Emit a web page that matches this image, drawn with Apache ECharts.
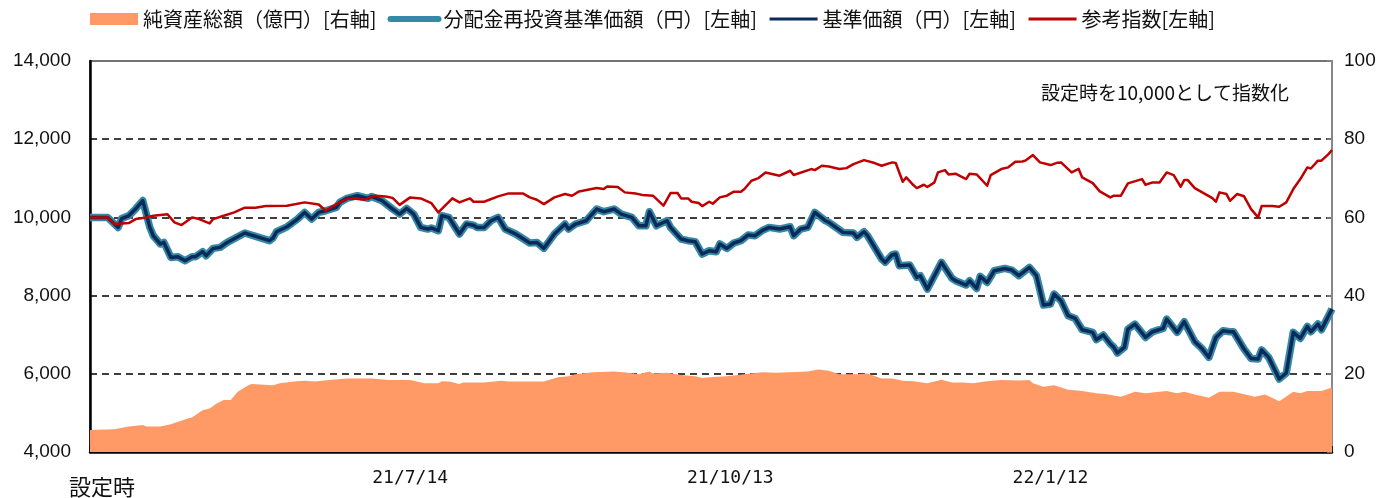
<!DOCTYPE html>
<html>
<head>
<meta charset="utf-8">
<script src="https://cdn.jsdelivr.net/npm/echarts@6/dist/echarts.min.js"></script>
<style>
html,body{margin:0;padding:0;background:#fff;}
#chart{width:1385px;height:498px;}
</style>
</head>
<body>
<div id="chart"></div>
<script>
// Series names
const aumName = '純資産総額（億円）[右軸]';
const reinvName = '分配金再投資基準価額（円）[左軸]';
const navName = '基準価額（円）[左軸]';
const refName = '参考指数[左軸]';
const noteText = '設定時を10,000として指数化';

// X axis: days since inception (設定時)
const tickDays = [0, 91, 182, 273];
const tickLabels = ['設定時', '21/7/14', '21/10/13', '22/1/12'];

// NAV (基準価額 = 分配金再投資基準価額, identical in the chart)
const navDays = [
  0,5,8,9,11,13,15,17,18,20,
  21,23,25,27,29,30,32,33,35,37,
  39,44,48,51,52,53,56,59,61,63,
  65,67,70,71,73,76,79,80,83,86,
  88,90,92,94,96,97,99,100,102,105,
  107,109,110,112,114,116,118,121,125,127,
  129,132,135,136,138,141,144,146,149,151,
  154,156,158,159,161,164,165,168,170,172,
  174,176,178,179,181,183,185,187,189,191,
  193,196,199,200,202,204,206,209,210,214,
  217,218,220,221,225,226,228,229,230,233,
  235,236,238,239,241,242,245,246,249,250,
  252,253,255,257,260,262,264,267,269,271,
  273,274,276,278,280,282,285,286,288,290,
  291,292,294,295,297,300,302,305,306,309,
  311,314,316,318,320,322,324,325,328,330,
  332,333,335,338,340,342,344,346,347,349,
  350,353
];
const navValues = [
  10000,10000,9744,9970,10040,10220,10430,9744,9530,9320,
  9360,8977,8995,8893,8995,8995,9123,9020,9207,9233,
  9360,9600,9488,9404,9472,9633,9760,9957,10128,9957,
  10128,10170,10256,10384,10486,10555,10486,10537,10427,10214,
  10085,10230,10085,9744,9702,9730,9660,10043,10000,9575,
  9830,9800,9744,9744,9915,10000,9702,9575,9345,9360,
  9208,9575,9830,9702,9830,9915,10213,10145,10213,10085,
  10000,9787,9787,10145,9787,9915,9744,9446,9404,9380,
  9063,9148,9123,9320,9207,9345,9404,9548,9530,9660,
  9744,9702,9760,9532,9702,9744,10130,9915,9872,9617,
  9600,9490,9633,9532,8936,8850,9047,9063,8765,8780,
  8465,8508,8167,8337,8679,8850,8440,8380,8270,8380,
  8184,8491,8337,8636,8695,8653,8508,8721,8508,7758,
  7784,8040,7868,7485,7416,7127,7059,6872,6992,6762,
  6677,6533,6677,7144,7272,6930,7076,7161,7400,7059,
  7332,6820,6650,6420,6930,7100,7076,7076,6633,6394,
  6378,6610,6420,5867,6020,7059,6905,7212,7076,7272,
  7127,7656
];

// Reference index (参考指数)
const refDays = [
  0,5,7,11,13,16,18,22,24,26,
  29,31,34,35,38,41,44,47,50,56,
  61,65,67,70,73,75,78,81,84,86,
  88,91,94,97,99,103,105,108,109,112,
  116,119,123,125,127,129,132,135,137,139,
  144,146,147,150,152,155,157,160,163,165,
  167,168,170,171,173,174,176,177,179,181,
  183,185,186,188,190,192,196,199,200,205,
  206,208,210,213,215,217,220,223,225,228,
  229,231,232,234,235,237,238,240,241,243,
  244,246,249,250,252,255,256,259,261,263,
  265,266,268,270,273,275,276,278,279,281,
  282,285,287,290,291,293,295,299,300,302,
  304,306,308,310,311,312,314,317,319,320,
  321,323,324,326,328,330,332,333,336,338,
  340,342,344,346,347,349,350,352,353
];
const refValues = [
  10000,10000,9830,9855,9957,10000,10043,10080,9872,9804,
  10000,9957,9847,9957,10043,10128,10248,10248,10290,10298,
  10384,10330,10170,10340,10470,10486,10450,10555,10537,10500,
  10320,10512,10486,10367,10128,10486,10384,10486,10400,10400,
  10537,10614,10614,10512,10452,10340,10512,10597,10555,10665,
  10750,10725,10793,10776,10640,10614,10572,10555,10300,10623,
  10623,10486,10486,10400,10367,10290,10400,10350,10512,10555,
  10657,10657,10725,10938,11006,11150,11066,11193,11083,11236,
  11210,11321,11300,11236,11260,11364,11466,11390,11321,11407,
  11390,10912,11023,10827,10750,10835,10776,10895,11150,11210,
  11100,11117,10980,11117,11100,10810,11083,11236,11280,11423,
  11430,11460,11595,11407,11338,11400,11407,11236,11150,11240,
  11023,10876,10665,10512,10555,10555,10870,10980,10835,10895,
  10895,11150,11083,10784,10955,10955,10750,10597,10495,10400,
  10640,10597,10425,10597,10540,10213,10000,10290,10290,10272,
  10384,10725,10980,11278,11250,11450,11450,11620,11723
];

// Net assets (純資産総額, 億円)
const aumDays = [
  0,7,11,15,16,20,23,28,29,32,
  34,36,38,40,42,45,46,52,54,58,
  61,64,68,73,80,85,88,91,95,99,
  100,102,105,106,112,117,119,129,133,136,
  138,143,149,153,156,159,160,164,168,172,
  174,177,181,186,191,195,199,204,207,210,
  213,218,221,225,228,231,234,238,242,245,
  248,251,255,259,264,267,268,271,274,278,
  282,286,289,293,297,300,306,309,311,314,
  318,321,325,331,334,338,342,344,346,350,
  353
];
const aumValues = [
  5.6,5.8,6.5,6.9,6.5,6.5,7.1,8.6,8.8,10.7,
  11.1,12.4,13.3,13.3,15.4,17.1,17.4,17.1,17.6,18.0,
  18.2,18.0,18.4,18.8,18.8,18.4,18.4,18.4,17.6,17.6,
  18.1,18.0,17.4,17.8,17.8,18.2,18.0,18.0,19.1,19.4,
  19.9,20.4,20.6,20.3,19.9,20.6,20.1,20.3,19.7,19.4,
  18.9,19.2,19.4,19.9,20.4,20.3,20.4,20.6,21.1,20.8,
  19.9,19.9,20.1,18.8,18.8,18.2,18.1,17.6,18.5,17.8,
  17.8,17.6,18.1,18.4,18.3,18.4,17.6,16.7,17.1,15.9,
  15.6,15.0,14.8,14.1,15.4,15.0,15.6,15.0,15.4,14.7,
  13.9,15.4,15.4,14.1,14.7,13.0,15.4,15.0,15.6,15.6,
  16.5
];

const zip = (xs, ys) => xs.map((x, i) => [x, ys[i]]);

const numFont = 'Liberation Sans';
const dateFont = 'DejaVu Sans Mono';
const jpFont = 'Noto Sans CJK JP';
const hideSymbol = {opacity: 0};

const chart = echarts.init(document.getElementById('chart'), null, {renderer: 'canvas'});
chart.setOption({
  animation: false,
  backgroundColor: '#ffffff',
  grid: {
    left: 90, right: 53, top: 61, bottom: 46,
    show: true, borderColor: '#444444', borderWidth: 1.5, backgroundColor: 'transparent'
  },
  legend: {
    left: 85, top: 4,
    itemWidth: 48, itemHeight: 12, itemGap: 11,
    textStyle: {fontFamily: jpFont, fontSize: 20, color: '#111'},
    data: [
      {name: aumName, icon: 'rect'},
      {name: reinvName, itemStyle: hideSymbol, lineStyle: {width: 6, color: '#3589A2', cap: 'round'}},
      {name: navName, itemStyle: hideSymbol, lineStyle: {width: 3, color: '#0B2A5B'}},
      {name: refName, itemStyle: hideSymbol, lineStyle: {width: 3, color: '#C00000'}}
    ]
  },
  graphic: [{
    type: 'text', right: 96, top: 83,
    style: {text: noteText, font: '19px "Noto Sans CJK JP"', fill: '#111'}
  }],
  xAxis: {
    type: 'value', min: 0, max: 353, interval: 91,
    axisLine: {show: true, lineStyle: {color: '#000', width: 2.5}},
    axisTick: {show: true, inside: true, length: 6, lineStyle: {color: '#000', width: 1.5}},
    splitLine: {show: false},
    axisLabel: {
      margin: 17,
      fontFamily: dateFont, fontSize: 18, color: '#111',
      formatter: function (v) {
        const i = tickDays.indexOf(v);
        if (i < 0) return '';
        if (i === 0) return '{s|' + tickLabels[0] + '}';
        return tickLabels[i];
      },
      rich: {
        s: {fontFamily: jpFont, fontSize: 22, color: '#111', padding: [7, 0, 0, 24]}
      }
    }
  },
  yAxis: [{
    type: 'value', min: 4000, max: 14000, interval: 2000,
    axisLine: {show: true, lineStyle: {color: '#000', width: 2.5}},
    axisTick: {show: false},
    axisLabel: {
      margin: 19, fontFamily: numFont, fontSize: 19, color: '#111',
      formatter: v => v.toLocaleString('en-US')
    },
    splitLine: {
      show: true,
      lineStyle: {color: ['transparent', '#000', '#000', '#000', '#000', 'transparent'], width: 1.5, type: [7, 5]}
    }
  }, {
    type: 'value', min: 0, max: 100, interval: 20,
    axisLine: {show: true, lineStyle: {color: '#888', width: 2}},
    axisTick: {show: true, inside: true, length: 5, lineStyle: {color: '#888', width: 1.5}},
    axisLabel: {margin: 12, fontFamily: numFont, fontSize: 19, color: '#111'},
    splitLine: {show: false}
  }],
  series: [{
    name: aumName, type: 'line', yAxisIndex: 1,
    data: zip(aumDays, aumValues),
    symbol: 'none', color: '#FF9966',
    lineStyle: {width: 0},
    areaStyle: {color: '#FF9966', opacity: 1},
    z: 1
  }, {
    name: reinvName, type: 'line', yAxisIndex: 0,
    data: zip(navDays, navValues),
    symbol: 'none', color: '#3589A2',
    lineStyle: {width: 7.5, color: '#3589A2', join: 'round'},
    z: 2
  }, {
    name: navName, type: 'line', yAxisIndex: 0,
    data: zip(navDays, navValues),
    symbol: 'none', color: '#0B2A5B',
    lineStyle: {width: 3.5, color: '#0B2A5B', join: 'round'},
    z: 3
  }, {
    name: refName, type: 'line', yAxisIndex: 0,
    data: zip(refDays, refValues),
    symbol: 'none', color: '#C00000',
    lineStyle: {width: 2.5, color: '#C00000', join: 'round'},
    z: 4
  }]
});
</script>
</body>
</html>
